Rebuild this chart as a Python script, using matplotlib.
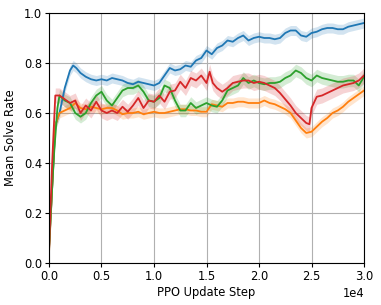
import numpy as np
import matplotlib
matplotlib.use('Agg')
import matplotlib.pyplot as plt

# values (step in thousands of PPO updates)
blue_x = [0, 0.3, 0.6, 1.0, 1.5, 2.0, 2.3, 2.6, 3.0, 3.5, 4.0, 4.5, 5.0, 5.5, 6.0, 6.5,
          7.0, 7.5, 8.0, 8.5, 9.0, 9.5, 10.0, 10.5, 11.0, 11.5, 12.0, 12.5, 13.0, 13.5,
          14.0, 14.5, 15.0, 15.5, 16.0, 16.5, 17.0, 17.5, 18.0, 18.5, 19.0, 19.5, 20.0,
          20.5, 21.0, 21.5, 22.0, 22.5, 23.0, 23.5, 24.0, 24.5, 25.0, 25.5, 26.0, 26.5,
          27.0, 27.5, 28.0, 28.5, 29.0, 29.5, 30.0]
blue_y = [0.05, 0.30, 0.55, 0.60, 0.70, 0.77, 0.79, 0.78, 0.76, 0.745, 0.735, 0.73, 0.735,
          0.73, 0.74, 0.735, 0.73, 0.72, 0.715, 0.725, 0.72, 0.715, 0.71, 0.72, 0.75, 0.78,
          0.77, 0.775, 0.79, 0.785, 0.81, 0.82, 0.85, 0.835, 0.86, 0.87, 0.89, 0.885, 0.90,
          0.91, 0.89, 0.90, 0.905, 0.90, 0.90, 0.895, 0.90, 0.92, 0.93, 0.93, 0.91, 0.905,
          0.92, 0.925, 0.935, 0.94, 0.94, 0.935, 0.935, 0.945, 0.95, 0.955, 0.96]

orange_x = [0, 0.3, 0.6, 1.0, 1.5, 2.0, 2.5, 3.0, 3.5, 4.0, 4.5, 5.0, 5.5, 6.0, 6.5, 7.0,
            7.5, 8.0, 8.5, 9.0, 9.5, 10.0, 10.5, 11.0, 11.5, 12.0, 12.5, 13.0, 13.5, 14.0,
            14.5, 15.0, 15.5, 16.0, 16.5, 17.0, 17.5, 18.0, 18.5, 19.0, 19.5, 20.0, 20.5,
            21.0, 21.5, 22.0, 22.5, 23.0, 23.5, 24.0, 24.5, 25.0, 25.5, 26.0, 26.5, 27.0,
            27.5, 28.0, 28.5, 29.0, 29.5, 30.0]
orange_y = [0.04, 0.30, 0.55, 0.60, 0.61, 0.62, 0.64, 0.62, 0.615, 0.625, 0.62, 0.615,
            0.62, 0.62, 0.61, 0.595, 0.60, 0.60, 0.605, 0.595, 0.60, 0.605, 0.60, 0.60,
            0.605, 0.61, 0.615, 0.615, 0.61, 0.61, 0.605, 0.605, 0.635, 0.63, 0.625, 0.64,
            0.64, 0.645, 0.645, 0.64, 0.64, 0.64, 0.65, 0.64, 0.635, 0.625, 0.615, 0.60,
            0.57, 0.54, 0.52, 0.525, 0.545, 0.565, 0.58, 0.60, 0.61, 0.625, 0.645, 0.66,
            0.675, 0.69]

green_x = [0, 0.3, 0.5, 0.8, 1.0, 1.5, 2.0, 2.5, 3.0, 3.5, 4.0, 4.5, 5.0, 5.5, 6.0, 6.5,
           7.0, 7.5, 8.0, 8.5, 9.0, 9.5, 10.0, 10.5, 11.0, 11.5, 12.0, 12.5, 13.0, 13.5,
           14.0, 14.5, 15.0, 15.5, 16.0, 16.5, 17.0, 17.5, 18.0, 18.5, 19.0, 19.5, 20.0,
           20.5, 21.0, 21.5, 22.0, 22.5, 23.0, 23.5, 24.0, 24.5, 25.0, 25.5, 26.0, 26.5,
           27.0, 27.5, 28.0, 28.5, 29.0, 29.5, 30.0]
green_y = [0.06, 0.30, 0.45, 0.62, 0.67, 0.65, 0.64, 0.60, 0.585, 0.60, 0.64, 0.67, 0.685,
           0.65, 0.63, 0.66, 0.69, 0.70, 0.70, 0.71, 0.685, 0.65, 0.645, 0.66, 0.71, 0.70,
           0.65, 0.61, 0.61, 0.64, 0.62, 0.63, 0.64, 0.63, 0.625, 0.65, 0.69, 0.70, 0.71,
           0.74, 0.72, 0.73, 0.72, 0.715, 0.72, 0.72, 0.725, 0.74, 0.75, 0.77, 0.76, 0.74,
           0.73, 0.75, 0.74, 0.735, 0.73, 0.725, 0.725, 0.73, 0.73, 0.71, 0.745]

red_x = [0, 0.3, 0.6, 1.0, 1.5, 2.0, 2.5, 3.0, 3.5, 4.0, 4.5, 5.0, 5.5, 6.0, 6.5, 7.0,
         7.5, 8.0, 8.5, 9.0, 9.5, 10.0, 10.5, 11.0, 11.5, 12.0, 12.5, 13.0, 13.5, 14.0,
         14.5, 15.0, 15.3, 15.6, 16.0, 16.5, 17.0, 17.5, 18.0, 18.5, 19.0, 19.5, 20.0,
         20.5, 21.0, 21.5, 22.0, 22.5, 23.0, 23.5, 24.0, 24.5, 24.8, 25.0, 25.5, 26.0,
         26.5, 27.0, 27.5, 28.0, 28.5, 29.0, 29.5, 30.0]
red_y = [0.05, 0.40, 0.67, 0.67, 0.655, 0.64, 0.65, 0.60, 0.63, 0.61, 0.645, 0.61, 0.60,
         0.61, 0.60, 0.625, 0.605, 0.63, 0.66, 0.62, 0.65, 0.645, 0.67, 0.645, 0.685,
         0.69, 0.725, 0.70, 0.74, 0.73, 0.75, 0.72, 0.765, 0.72, 0.70, 0.685, 0.70, 0.72,
         0.725, 0.73, 0.73, 0.72, 0.725, 0.72, 0.71, 0.70, 0.68, 0.655, 0.63, 0.60, 0.58,
         0.56, 0.555, 0.62, 0.665, 0.67, 0.68, 0.69, 0.70, 0.71, 0.715, 0.72, 0.73, 0.75]

# half width of the shaded band for each run
bands = {'blue': 0.02, 'orange': 0.02, 'green': 0.025, 'red': 0.03}

fig = plt.figure(figsize=(3.81, 3.05), dpi=100)
ax = fig.add_axes([0.1286, 0.1377, 0.8268, 0.8197])

series = [('tab:blue', blue_x, blue_y, bands['blue']),
          ('tab:orange', orange_x, orange_y, bands['orange']),
          ('tab:green', green_x, green_y, bands['green']),
          ('tab:red', red_x, red_y, bands['red'])]

for col, xs, ys, w in series:
    xs = np.asarray(xs) * 1000
    ys = np.asarray(ys)
    ax.fill_between(xs, ys - w, ys + w, color=col, alpha=0.2, linewidth=0)
    ax.plot(xs, ys, color=col, linewidth=1.3)

fs = 8.3
ax.set_xlim(0, 30000)
ax.set_ylim(0, 1.0)
ax.set_xticks([0, 5000, 10000, 15000, 20000, 25000, 30000])
ax.set_yticks([0.0, 0.2, 0.4, 0.6, 0.8, 1.0])
ax.ticklabel_format(axis='x', style='sci', scilimits=(0, 0))
ax.xaxis.get_offset_text().set_fontsize(fs)
ax.tick_params(labelsize=fs, length=3, width=0.8, pad=2)
ax.grid(True, color='#b0b0b0', linewidth=0.8)
ax.set_axisbelow(True)
ax.set_xlabel('PPO Update Step', fontsize=fs, labelpad=2)
ax.set_ylabel('Mean Solve Rate', fontsize=fs, labelpad=5)

fig.savefig('out.png', dpi=100)
